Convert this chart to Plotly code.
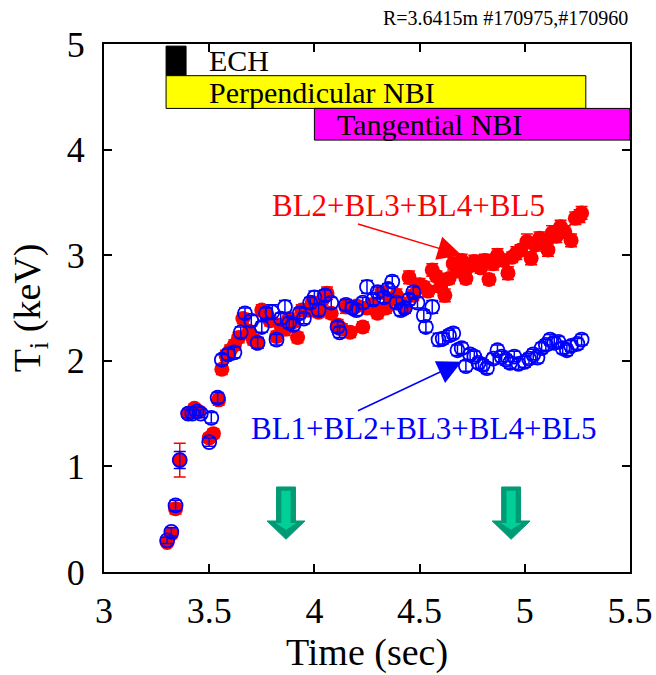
import plotly.graph_objects as go

# ---------------- data ----------------
red_t = [3.30, 3.32, 3.34, 3.36, 3.40, 3.43, 3.45, 3.50, 3.52, 3.545, 3.56, 3.58, 3.60, 3.62, 3.64,
         3.66, 3.69, 3.71, 3.73, 3.75, 3.77, 3.79, 3.82, 3.84, 3.86, 3.88, 3.90, 3.92, 3.94, 3.97,
         3.99, 4.02, 4.04, 4.06, 4.08, 4.11, 4.13, 4.15, 4.17, 4.20, 4.23, 4.25, 4.27, 4.30, 4.32,
         4.34, 4.36, 4.39, 4.41, 4.43, 4.45, 4.47, 4.50, 4.52, 4.54, 4.56, 4.58, 4.60, 4.62, 4.64,
         4.66, 4.68, 4.70, 4.72, 4.74, 4.76, 4.79, 4.81, 4.83, 4.85, 4.87, 4.90, 4.92, 4.94, 4.96,
         4.98, 5.01, 5.03, 5.05, 5.07, 5.09, 5.11, 5.13, 5.15, 5.17, 5.19, 5.22, 5.24, 5.26, 5.27]
red_ti = [0.28, 0.36, 0.60, 1.06, 1.50, 1.55, 1.52, 1.27, 1.31, 1.63, 1.92, 2.05, 2.10, 2.15, 2.22,
          2.40, 2.28, 2.20, 2.17, 2.48, 2.45, 2.38, 2.23, 2.34, 2.30, 2.40, 2.37, 2.22, 2.48, 2.48,
          2.55, 2.46, 2.58, 2.64, 2.45, 2.34, 2.30, 2.51, 2.27, 2.52, 2.32, 2.50, 2.53, 2.45, 2.65,
          2.50, 2.58, 2.62, 2.55, 2.50, 2.79, 2.62, 2.72, 2.70, 2.66, 2.86, 2.80, 2.70, 2.62, 2.78,
          2.92, 2.85, 2.95, 2.78, 2.90, 2.94, 2.88, 2.95, 2.77, 2.92, 3.00, 2.95, 2.83, 2.98, 3.02,
          3.05, 3.13, 2.97, 3.10, 3.16, 3.12, 3.05, 3.21, 3.18, 3.27, 3.22, 3.14, 3.35, 3.37, 3.40]
red_err = [0.03, 0.04, 0.05, 0.16, 0.04, 0.04, 0.04, 0.04, 0.04, 0.05, 0.05, 0.05, 0.05, 0.05, 0.05,
           0.05, 0.05, 0.05, 0.05, 0.05, 0.05, 0.05, 0.05, 0.05, 0.06, 0.05, 0.05, 0.05, 0.05, 0.06,
           0.05, 0.05, 0.06, 0.06, 0.05, 0.05, 0.05, 0.06, 0.05, 0.05, 0.05, 0.06, 0.05, 0.05, 0.06,
           0.05, 0.05, 0.06, 0.05, 0.05, 0.06, 0.05, 0.06, 0.05, 0.05, 0.06, 0.05, 0.05, 0.06, 0.05,
           0.06, 0.05, 0.06, 0.05, 0.05, 0.06, 0.05, 0.06, 0.05, 0.06, 0.06, 0.05, 0.06, 0.05, 0.06,
           0.05, 0.07, 0.06, 0.06, 0.06, 0.05, 0.06, 0.07, 0.06, 0.06, 0.06, 0.06, 0.06, 0.06, 0.06]

blue_t = [3.30, 3.32, 3.34, 3.36, 3.40, 3.42, 3.44, 3.46, 3.50, 3.51, 3.54, 3.56, 3.59, 3.62, 3.65,
          3.67, 3.70, 3.73, 3.75, 3.77, 3.80, 3.82, 3.84, 3.86, 3.88, 3.90, 3.93, 3.95, 3.98, 4.00,
          4.02, 4.05, 4.08, 4.11, 4.12, 4.15, 4.18, 4.20, 4.23, 4.25, 4.28, 4.30, 4.33, 4.35, 4.37,
          4.39, 4.41, 4.43, 4.45, 4.47, 4.49, 4.52, 4.53, 4.56, 4.59, 4.61, 4.64, 4.66, 4.68, 4.70,
          4.72, 4.74, 4.76, 4.78, 4.80, 4.82, 4.85, 4.87, 4.89, 4.91, 4.93, 4.95, 4.97, 5.00, 5.02,
          5.04, 5.06, 5.08, 5.10, 5.12, 5.14, 5.16, 5.18, 5.20, 5.22, 5.25, 5.27]
blue_ti = [0.30, 0.38, 0.63, 1.06, 1.50, 1.50, 1.52, 1.50, 1.23, 1.46, 1.65, 2.01, 2.06, 2.08, 2.27,
           2.45, 2.38, 2.17, 2.32, 2.45, 2.46, 2.20, 2.40, 2.51, 2.36, 2.34, 2.45, 2.40, 2.55, 2.60,
           2.48, 2.62, 2.55, 2.32, 2.27, 2.53, 2.50, 2.48, 2.55, 2.70, 2.58, 2.65, 2.60, 2.68, 2.75,
           2.55, 2.48, 2.50, 2.58, 2.65, 2.55, 2.43, 2.32, 2.51, 2.20, 2.21, 2.24, 2.26, 2.10, 2.12,
           1.95, 2.06, 2.04, 1.98, 1.96, 1.93, 2.02, 2.10, 2.04, 2.01, 1.98, 2.04, 1.97, 1.99, 2.02,
           2.06, 2.03, 2.12, 2.15, 2.20, 2.17, 2.18, 2.12, 2.10, 2.14, 2.16, 2.20]
blue_err = [0.03, 0.04, 0.05, 0.08, 0.04, 0.04, 0.04, 0.04, 0.04, 0.05, 0.05, 0.05, 0.05, 0.05, 0.05,
            0.05, 0.05, 0.05, 0.05, 0.05, 0.07, 0.05, 0.05, 0.06, 0.05, 0.05, 0.05, 0.05, 0.05, 0.06,
            0.05, 0.05, 0.05, 0.05, 0.05, 0.05, 0.05, 0.05, 0.05, 0.06, 0.05, 0.05, 0.05, 0.05, 0.05,
            0.05, 0.05, 0.05, 0.05, 0.05, 0.05, 0.05, 0.05, 0.06, 0.06, 0.05, 0.05, 0.05, 0.05, 0.05,
            0.05, 0.05, 0.05, 0.05, 0.05, 0.05, 0.05, 0.05, 0.05, 0.05, 0.05, 0.05, 0.05, 0.05, 0.05,
            0.05, 0.05, 0.05, 0.05, 0.05, 0.05, 0.05, 0.05, 0.05, 0.05, 0.05, 0.05]

x_ticks = [3, 3.5, 4, 4.5, 5, 5.5]
x_tick_labels = ["3", "3.5", "4", "4.5", "5", "5.5"]
y_ticks = [0, 1, 2, 3, 4, 5]
y_tick_labels = ["0", "1", "2", "3", "4", "5"]

heating_names = ["ECH", "Perpendicular NBI", "Tangential NBI"]
heating_start = [3.295, 3.295, 4.0]
heating_end = [3.39, 5.29, 5.5]
heating_colors = ["#000000", "#ffff00", "#ff00ff"]
heating_ylow = [4.70, 4.39, 4.09]
heating_yhigh = [4.98, 4.70, 4.39]
heating_label_x = [3.49, 3.49, 4.10]
heating_label_y = [4.845, 4.545, 4.235]

green_arrow_t = [3.865, 4.935]

FONT = "Times New Roman, Liberation Serif, serif"

fig = go.Figure()

fig.add_trace(go.Scatter(
    x=red_t, y=red_ti, mode="markers", name="BL2+BL3+BL4+BL5",
    marker=dict(symbol="circle", size=15, color="#ff0000", line=dict(width=0)),
    error_y=dict(type="data", array=red_err, color="#ff0000", thickness=1.5, width=6),
))
fig.add_trace(go.Scatter(
    x=blue_t, y=blue_ti, mode="markers", name="BL1+BL2+BL3+BL4+BL5",
    marker=dict(symbol="circle-open", size=14, color="#0000ff", line=dict(width=1.8, color="#0000ff")),
    error_y=dict(type="data", array=blue_err, color="#0000ff", thickness=1.5, width=6),
))

shapes = []
annotations = []
for name, x0, x1, c, y0, y1 in zip(heating_names, heating_start, heating_end, heating_colors,
                                   heating_ylow, heating_yhigh):
    shapes.append(dict(type="rect", xref="x", yref="y", x0=x0, x1=x1, y0=y0, y1=y1,
                       fillcolor=c, line=dict(color="black", width=1), layer="above"))

for name, lx, ly in zip(heating_names, heating_label_x, heating_label_y):
    annotations.append(dict(x=lx, y=ly, xref="x", yref="y", text=name, showarrow=False,
                            xanchor="left", yanchor="middle",
                            font=dict(family=FONT, size=30, color="black")))

# green block arrows
for tc in green_arrow_t:
    sw, hw = 0.045, 0.09
    ytop, ybase, ytip = 0.805, 0.483, 0.31
    outer = (f"M {tc-sw} {ytop} L {tc+sw} {ytop} L {tc+sw} {ybase} L {tc+hw} {ybase} "
             f"L {tc} {ytip} L {tc-hw} {ybase} L {tc-sw} {ybase} Z")
    shapes.append(dict(type="path", xref="x", yref="y", path=outer,
                       fillcolor="#009a74", line=dict(color="#009a74", width=1), layer="above"))
    isw, ihw = 0.022, 0.05
    inner = (f"M {tc-isw} {ytop-0.035} L {tc+isw} {ytop-0.035} L {tc+isw} {ybase-0.02} "
             f"L {tc+ihw} {ybase-0.02} L {tc} {ytip+0.09} L {tc-ihw} {ybase-0.02} "
             f"L {tc-isw} {ybase-0.02} Z")
    shapes.append(dict(type="path", xref="x", yref="y", path=inner,
                       fillcolor="#00cf98", line=dict(width=0), layer="above"))

# series labels with arrows
annotations.append(dict(x=4.70, y=3.00, ax=4.20, ay=3.30, xref="x", yref="y", axref="x", ayref="y",
                        showarrow=True, arrowhead=2, arrowsize=3.2, arrowwidth=1.5,
                        arrowcolor="#ff0000", text=""))
annotations.append(dict(x=4.445, y=3.475, xref="x", yref="y", text="BL2+BL3+BL4+BL5",
                        showarrow=False, font=dict(family=FONT, size=31, color="#ff0000")))
annotations.append(dict(x=4.70, y=1.99, ax=4.20, ay=1.52, xref="x", yref="y", axref="x", ayref="y",
                        showarrow=True, arrowhead=2, arrowsize=3.2, arrowwidth=1.5,
                        arrowcolor="#0000ff", text=""))
annotations.append(dict(x=4.52, y=1.36, xref="x", yref="y", text="BL1+BL2+BL3+BL4+BL5",
                        showarrow=False, font=dict(family=FONT, size=31, color="#0000ff")))

# top-right caption
annotations.append(dict(x=1.0, y=1.0, xref="paper", yref="paper", yshift=26,
                        text="R=3.6415m #170975,#170960", showarrow=False,
                        xanchor="right", yanchor="middle",
                        font=dict(family=FONT, size=20, color="black")))

fig.update_layout(
    width=656, height=675,
    margin=dict(l=104, r=26, t=44, b=103, autoexpand=False),
    paper_bgcolor="white", plot_bgcolor="white",
    showlegend=False,
    shapes=shapes, annotations=annotations,
    font=dict(family=FONT, color="black"),
)
fig.update_xaxes(
    range=[3, 5.5], tickvals=x_ticks, ticktext=x_tick_labels, automargin=False,
    showline=True, linecolor="black", linewidth=2, mirror="ticks",
    ticks="inside", ticklen=8, tickwidth=2, tickcolor="black",
    showgrid=False, zeroline=False,
    tickfont=dict(family=FONT, size=36), ticklabelstandoff=6,
    title=dict(text="Time (sec)", font=dict(family=FONT, size=38), standoff=4),
)
fig.update_yaxes(
    range=[0, 5], tickvals=y_ticks, ticktext=y_tick_labels, automargin=False,
    showline=True, linecolor="black", linewidth=2, mirror="ticks",
    ticks="inside", ticklen=8, tickwidth=2, tickcolor="black",
    showgrid=False, zeroline=False,
    tickfont=dict(family=FONT, size=36), ticklabelstandoff=10,
    title=dict(text="T<sub>i</sub> (keV)", font=dict(family=FONT, size=38), standoff=14),
)

fig.write_html("out.html", config={"displayModeBar": False},
               post_script="document.body.style.margin='0';")
